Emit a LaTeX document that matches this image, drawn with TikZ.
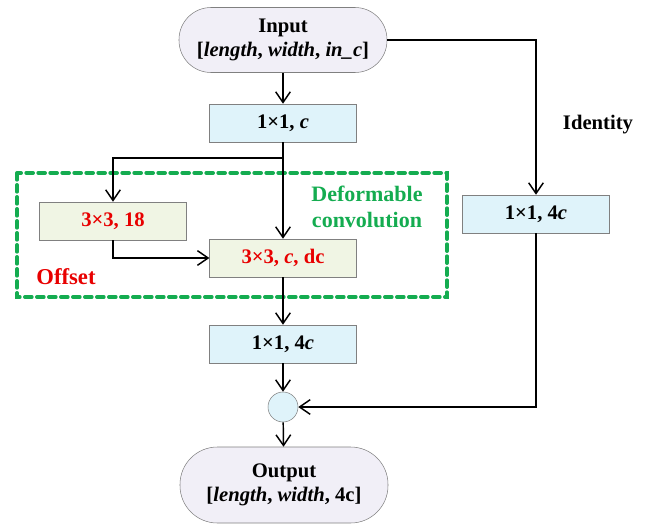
\documentclass[tikz,border=0pt]{standalone}
\usepackage{fontspec}
\setmainfont{Liberation Serif}
\usepackage{tikz}
\usetikzlibrary{arrows.meta}
\usepackage{xcolor}
\definecolor{boxblue}{RGB}{223,243,250}
\definecolor{boxgreen}{RGB}{240,245,228}
\definecolor{pillgray}{RGB}{241,239,247}
\definecolor{dashgreen}{RGB}{20,172,80}
\definecolor{offred}{RGB}{232,0,0}

\begin{document}
\begin{tikzpicture}[
x = 0.75pt, y = -0.75pt,
every node/.style = {font=\fontsize{15.5}{18.5}\selectfont\bfseries, align=center},
  pill/.style = {draw=gray, fill=pillgray, rounded corners=24pt, minimum width=156pt, inner sep=2pt},
  bluebox/.style = {draw=gray, fill=boxblue, minimum width=110pt, minimum height=28.5pt},
  greenbox/.style = {draw=gray, fill=boxgreen, text=offred, minimum width=110pt, minimum height=28.5pt},
  sum/.style = {draw=gray, fill=boxblue, circle, minimum size=22.5pt, inner sep=0pt},
  arr/.style = {-{Straight Barb[length=8pt,width=11pt]}, line width=1.1pt}
]
\useasboundingbox (0,0) rectangle (646,524);
% deformable block
\draw[dashgreen, line width=3pt, dash pattern=on 5pt off 4pt, line cap=round]
  (17,173) rectangle (447,297);
\node[text=dashgreen, font=\fontsize{16.5}{20}\selectfont\bfseries] (dlabel) at (367,207) {Deformable\\convolution};
\node[text=offred, font=\fontsize{17}{20}\selectfont\bfseries] (olabel) at (66,277) {Offset};
\node (ilabel) at (598,125) {Identity};

\node[pill, minimum height=48.75pt] (input) at (283,40) {Input\\{}[\textit{length}, \textit{width}, \textit{in\_c}]};
\node[bluebox] (conv1) at (283,123) {1×1, \textit{c}};
\node[greenbox] (offset) at (113,221) {3×3, 18};
\node[greenbox] (dconv) at (283,258) {3×3, \textit{c}, dc};
\node[bluebox] (conv3) at (283,344) {1×1, 4\textit{c}};
\node[sum] (add) at (283,407) {};
\node[pill, minimum height=57pt, rounded corners=28pt] (output) at (284,485) {Output\\{}[\textit{length}, \textit{width}, 4c]};
\node[bluebox] (short) at (536,214) {1×1, 4\textit{c}};
\coordinate (split) at (283,158);

\draw[arr] (input) -- (conv1);
\draw[line width=1.1pt] (conv1) -- (split);
\draw[arr] (split) -| (offset);
\draw[arr] (split) -- (dconv);
\draw[arr] (offset) |- (dconv);
\draw[arr] (dconv) -- (conv3);
\draw[arr] (conv3) -- (add);
\draw[arr] (add) -- (output);
\draw[arr] (input) -| (short);
\draw[arr] (short) |- (add);
\end{tikzpicture}
\end{document}
